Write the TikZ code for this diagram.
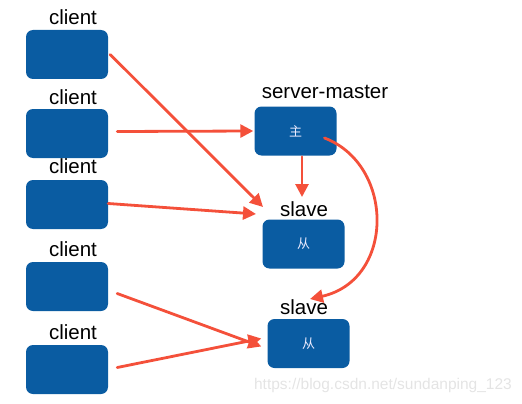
\documentclass[tikz,border=0pt]{standalone}
\usepackage{fontspec}
\setmainfont{Liberation Sans}
\newfontfamily\cjk{Noto Sans CJK SC}
\usetikzlibrary{arrows.meta}
\definecolor{boxblue}{RGB}{10,92,162}
\definecolor{arrred}{RGB}{244,80,58}
\definecolor{wmgray}{RGB}{228,228,228}
\begin{document}
\begin{tikzpicture}[x=1pt,y=-1pt,
  box/.style={fill=boxblue,rounded corners=7pt,minimum width=82pt,minimum height=49pt,inner sep=0pt,text=blue!8,font=\cjk\fontsize{13}{13}\selectfont},
  lab/.style={font=\fontsize{20.5}{20.5}\selectfont,inner sep=0pt},
  link/.style={draw=arrred,line width=2.8pt,line cap=round,-{Triangle[length=13pt,width=13pt]}}]
\useasboundingbox (0,0) rectangle (522,404);
% clients
\node[box] (c1) at (67,54.5) {};
\node[box] (c2) at (67,133.5) {};
\node[box] (c3) at (67,204.5) {};
\node[box] (c4) at (67,286.5) {};
\node[box] (c5) at (67,369.5) {};
\node[lab] (l1) at (73,17) {client};
\node[lab] (l2) at (73,97) {client};
\node[lab] (l3) at (73,166) {client};
\node[lab] (l4) at (73,249) {client};
\node[lab] (l5) at (73,332) {client};
% servers
\node[box] (m) at (295.5,131) {主};
\node[box] (s1) at (303.5,244) {从};
\node[box] (s2) at (308.5,343.5) {从};
\node[lab] (lm) at (325,92) {server-master};
\node[lab] (ls1) at (304,209) {slave};
\node[lab] (ls2) at (304,307) {slave};
% ends of the arrows
\coordinate (e1) at (263,207);
\coordinate (e3) at (256,214);
\coordinate (e4) at (302,197);
\coordinate (e5) at (310,299);
\draw[link] (c1.east) ++(2,0) -- (e1);
\draw[link] (c2.east) ++(9,-2) -- ([xshift=-1pt]m.west);
\draw[link] (c3.east) ++(0,-1) -- (e3);
\draw[link] ([xshift=6.5pt,yshift=-1pt]m.south) -- (e4);
\draw[link] ([xshift=29pt,yshift=-7pt]m.center) .. controls (395,165) and (395,280) .. (e5);
\draw[link] (c4.east) ++(9,7) -- ([xshift=-6pt,yshift=-3pt]s2.west);
\draw[link] (c5.east) ++(9,-2) -- ([xshift=-6pt,yshift=5pt]s2.west);
% watermark
\node[text=wmgray,font=\fontsize{15.5}{15.5}\selectfont,anchor=east,inner sep=0pt] (wm) at (512,385) {https://blog.csdn.net/sundanping\_123};
\end{tikzpicture}
\end{document}
